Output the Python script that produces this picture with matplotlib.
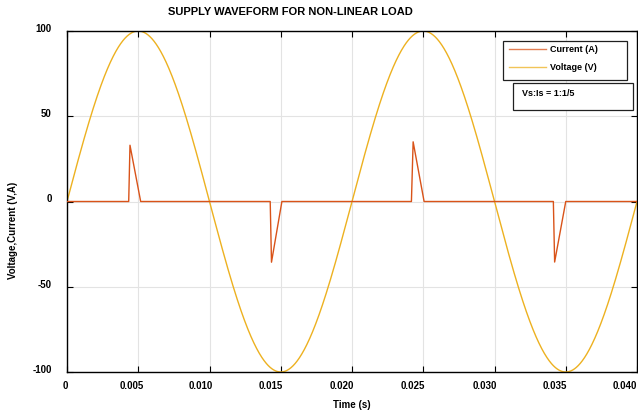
import numpy as np
import matplotlib.pyplot as plt
import matplotlib.transforms as mtransforms
from matplotlib.patches import Rectangle
from matplotlib.lines import Line2D

plt.rcParams['font.family'] = ['Liberation Sans', 'DejaVu Sans']
plt.rcParams['font.weight'] = 'bold'
plt.rcParams['axes.unicode_minus'] = False

# supply voltage: 100 V peak, 50 Hz
v_peak = 100
freq = 50
t_end = 0.04

# current pulse breakpoints
cur_t = [0, 0.00433, 0.00442, 0.00517, 0.01426, 0.01435, 0.01508,
         0.02417, 0.02429, 0.02506, 0.03413, 0.03422, 0.03500, 0.04]
cur_i = [0, 0, 33, 0, 0, -35.6, 0, 0, 35, 0, 0, -35.5, 0, 0]

x_ticks = [0, 0.005, 0.010, 0.015, 0.020, 0.025, 0.030, 0.035, 0.040]
x_labels = ['0', '0.005', '0.010', '0.015', '0.020', '0.025', '0.030', '0.035', '0.040']
y_ticks = [-100, -50, 0, 50, 100]

cur_color = '#D95319'
volt_color = '#EDB120'

t = np.linspace(0, t_end, 2000)
v = v_peak * np.sin(2 * np.pi * freq * t)

W, H = 638, 414
fig = plt.figure(figsize=(W/100, H/100), dpi=100)
ax = fig.add_axes([67/W, 1 - 373/H, 570/W, 341/H])

ax.plot(cur_t, cur_i, color=cur_color, lw=1.0, zorder=3)
ax.plot(t, v, color=volt_color, lw=1.0, zorder=2)

ax.set_xlim(0, t_end)
ax.set_ylim(-100, 100)
ax.set_xticks(x_ticks)
ax.set_xticklabels(x_labels)
ax.set_yticks(y_ticks)
ax.tick_params(direction='in', length=4, width=0.8, labelsize=7, top=True, right=True)
ax.tick_params(axis='x', pad=6)
ax.tick_params(axis='y', pad=11)
ax.grid(True, color='#e3e3e3', lw=0.8)
ax.set_axisbelow(True)
for s in ax.spines.values():
    s.set_linewidth(1.0)

# nudge tick labels like the original export
x_shift_px = [-2, -7, -9, -10, -10, -10, -10, -11, -12]
for lab, dx in zip(ax.get_xticklabels(), x_shift_px):
    off = mtransforms.ScaledTranslation(dx/100, 0, fig.dpi_scale_trans)
    lab.set_transform(lab.get_transform() + off)
shift_y = mtransforms.ScaledTranslation(0, 4/100, fig.dpi_scale_trans)
for lab in ax.get_yticklabels():
    lab.set_transform(lab.get_transform() + shift_y)

ax.set_xlabel('Time (s)', fontsize=7, fontweight='bold', labelpad=6)
fig.text(13/W, 1 - 230/H, 'Voltage,Current (V,A)', rotation=90, ha='center', va='center',
         fontsize=7, fontweight='bold')
fig.text(290/W, 1 - 12/H, 'SUPPLY WAVEFORM FOR NON-LINEAR LOAD', ha='center', va='center',
         fontsize=8, fontweight='bold')

# legend box
fig.add_artist(Rectangle((503/W, 1 - 81/H), 124/W, 39/H, transform=fig.transFigure,
                         fc='white', ec='#202020', lw=0.9, zorder=5))
for name, col, y in [('Current (A)', cur_color, 49), ('Voltage (V)', volt_color, 67)]:
    fig.add_artist(Line2D([509/W, 546/W], [1 - (y + 1)/H] * 2, transform=fig.transFigure,
                          color=col, lw=1.0, alpha=0.75, zorder=6))
    fig.text(550/W, 1 - y/H, name, ha='left', va='center', fontsize=6.5,
             fontweight='bold', zorder=6)

# ratio box
fig.add_artist(Rectangle((513/W, 1 - 111/H), 120/W, 27/H, transform=fig.transFigure,
                         fc='white', ec='#202020', lw=0.9, zorder=5))
fig.text(522/W, 1 - 94/H, 'Vs:Is = 1:1/5', ha='left', va='center', fontsize=6.5,
         fontweight='bold', zorder=6)

fig.savefig('out.png', dpi=100)
